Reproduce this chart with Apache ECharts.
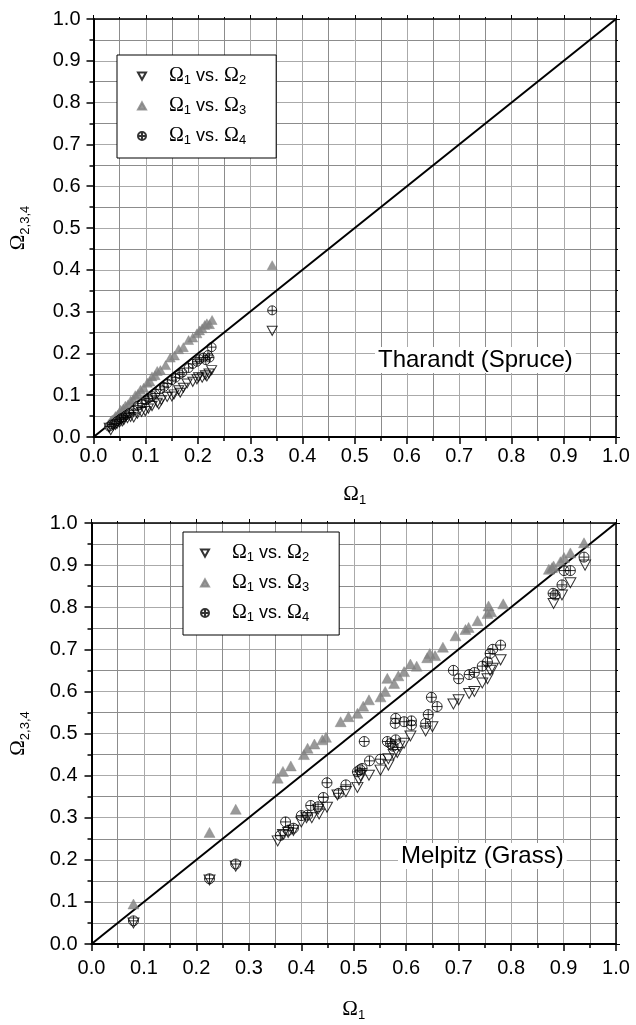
<!DOCTYPE html>
<html>
<head>
<meta charset="utf-8">
<script src="https://cdn.jsdelivr.net/npm/echarts@6/dist/echarts.min.js"></script>
<style>
html,body{margin:0;padding:0;background:#fff;}
#chart{width:636px;height:1025px;}
</style>
</head>
<body>
<div id="chart"></div>
<script>
// ---- Tick labels ----
const tickValues = [0.0,0.1,0.2,0.3,0.4,0.5,0.6,0.7,0.8,0.9,1.0];
const seriesNames = ['Ω1 vs. Ω2','Ω1 vs. Ω3','Ω1 vs. Ω4'];
const siteLabels = ['Tharandt (Spruce)','Melpitz (Grass)'];
const diagonal = [[0,0],[1,1]];

// ---- Tharandt (Spruce) ----
const thO2x = [0.030,0.033,0.038,0.042,0.045,0.050,0.055,0.058,0.065,0.071,0.077,0.084,0.092,0.099,0.105,0.112,0.122,0.125,0.130,0.141,0.150,0.154,0.163,0.166,0.172,0.179,0.190,0.198,0.201,0.208,0.214,0.217,0.221,0.226,0.342];
const thO2y = [0.022,0.016,0.027,0.029,0.031,0.035,0.037,0.040,0.045,0.048,0.047,0.056,0.060,0.062,0.068,0.074,0.082,0.078,0.088,0.096,0.097,0.102,0.112,0.106,0.118,0.128,0.132,0.138,0.143,0.142,0.148,0.145,0.152,0.160,0.254];
const thO3x = [0.030,0.033,0.036,0.040,0.042,0.046,0.050,0.052,0.057,0.061,0.066,0.071,0.076,0.080,0.085,0.090,0.096,0.103,0.108,0.112,0.118,0.122,0.128,0.138,0.147,0.155,0.163,0.172,0.182,0.190,0.198,0.203,0.208,0.213,0.217,0.222,0.227,0.342];
const thO3y = [0.032,0.038,0.042,0.045,0.050,0.053,0.058,0.065,0.068,0.075,0.078,0.087,0.090,0.100,0.103,0.113,0.118,0.130,0.133,0.145,0.148,0.158,0.160,0.172,0.190,0.195,0.210,0.215,0.232,0.238,0.248,0.255,0.260,0.268,0.272,0.270,0.280,0.411];
const thO4x = [0.030,0.035,0.040,0.045,0.050,0.053,0.057,0.062,0.068,0.077,0.085,0.093,0.100,0.105,0.112,0.118,0.128,0.135,0.141,0.150,0.157,0.165,0.170,0.182,0.190,0.198,0.203,0.210,0.215,0.219,0.222,0.226,0.342];
const thO4y = [0.025,0.030,0.032,0.038,0.042,0.045,0.047,0.052,0.057,0.063,0.075,0.080,0.088,0.092,0.098,0.104,0.114,0.120,0.128,0.136,0.142,0.150,0.154,0.165,0.175,0.180,0.186,0.190,0.184,0.196,0.190,0.215,0.303];

// ---- Melpitz (Grass) ----
const meO2x = [0.080,0.225,0.275,0.355,0.365,0.375,0.385,0.400,0.410,0.420,0.432,0.434,0.449,0.469,0.485,0.507,0.510,0.513,0.529,0.551,0.566,0.566,0.576,0.583,0.587,0.596,0.608,0.637,0.650,0.690,0.700,0.720,0.730,0.745,0.755,0.760,0.765,0.780,0.881,0.897,0.913,0.941];
const meO2y = [0.050,0.152,0.185,0.245,0.260,0.265,0.270,0.290,0.300,0.300,0.320,0.309,0.325,0.354,0.362,0.372,0.390,0.400,0.401,0.413,0.425,0.440,0.450,0.455,0.470,0.477,0.494,0.506,0.516,0.570,0.580,0.595,0.600,0.620,0.630,0.650,0.655,0.675,0.809,0.829,0.858,0.900];
const meO3x = [0.080,0.225,0.275,0.355,0.365,0.380,0.405,0.412,0.425,0.440,0.447,0.475,0.490,0.507,0.518,0.529,0.551,0.560,0.564,0.577,0.585,0.596,0.608,0.620,0.640,0.645,0.655,0.670,0.694,0.713,0.719,0.736,0.755,0.757,0.762,0.785,0.872,0.878,0.881,0.894,0.901,0.913,0.939];
const meO3y = [0.095,0.265,0.320,0.394,0.410,0.423,0.450,0.465,0.475,0.485,0.491,0.528,0.540,0.548,0.565,0.580,0.587,0.600,0.631,0.619,0.637,0.647,0.665,0.660,0.680,0.690,0.685,0.705,0.732,0.747,0.752,0.768,0.785,0.803,0.789,0.808,0.890,0.894,0.898,0.908,0.918,0.929,0.953];
const meO4x = [0.080,0.225,0.275,0.360,0.370,0.375,0.385,0.400,0.412,0.418,0.432,0.442,0.449,0.471,0.485,0.507,0.512,0.516,0.520,0.530,0.551,0.564,0.570,0.575,0.580,0.579,0.580,0.596,0.610,0.610,0.637,0.642,0.648,0.659,0.690,0.700,0.720,0.730,0.745,0.755,0.760,0.765,0.780,0.880,0.884,0.897,0.901,0.913,0.939];
const meO4y = [0.055,0.155,0.190,0.258,0.290,0.270,0.275,0.305,0.306,0.329,0.326,0.348,0.383,0.358,0.378,0.409,0.414,0.417,0.481,0.435,0.439,0.481,0.476,0.470,0.485,0.524,0.536,0.528,0.530,0.520,0.524,0.545,0.586,0.564,0.650,0.630,0.640,0.645,0.660,0.670,0.690,0.700,0.710,0.833,0.829,0.853,0.887,0.887,0.919];

const zip = (xs, ys) => xs.map((x, i) => [x, ys[i]]);

const SYM_DOWN = 'path://M0,0 L10,0 L5,9 Z';
const SYM_UP = 'path://M5,0 L10,9 L0,9 Z';
const SYM_CPLUS = 'path://M5,0 A5,5 0 1 1 5,10 A5,5 0 1 1 5,0 Z M0,5 L10,5 M5,0 L5,10';

const SANS = 'Liberation Sans, Arial, sans-serif';
const SERIF = 'Liberation Serif, Times New Roman, serif';

const legendRich = {
  sp: {width: 18, fontSize: 18, lineHeight: 22},
  o: {fontFamily: SERIF, fontSize: 20, lineHeight: 22, color: '#000'},
  t: {fontFamily: SANS, fontSize: 18, lineHeight: 22, color: '#000'},
  s: {fontFamily: SANS, fontSize: 13, lineHeight: 12, verticalAlign: 'bottom', color: '#000'}
};
function legendFmt(name) {
  const m = name.match(/Ω1 vs\. Ω(\d)/);
  return '{sp|}{o|Ω}{s|1}{t| vs. }{o|Ω}{s|' + m[1] + '}';
}

const nameRich = {
  o: {fontFamily: SERIF, fontSize: 21, lineHeight: 26, color: '#000'},
  s: {fontFamily: SANS, fontSize: 13, lineHeight: 13, verticalAlign: 'bottom', color: '#000'}
};

const gridDefs = [
  {left: 93, top: 19, width: 523, height: 418},
  {left: 90, top: 523, width: 526, height: 421}
];

function mainAxis(gi, isX, nameGap, labelMargin) {
  return {
    type: 'value', gridIndex: gi, min: 0, max: 1, interval: 0.1,
    position: isX ? 'bottom' : 'left',
    name: isX ? '{o|Ω}{s|1}' : '{o|Ω}{s|2,3,4}',
    nameLocation: 'middle', nameGap: nameGap,
    nameTextStyle: {rich: nameRich},
    axisLine: {show: true, onZero: false, lineStyle: {color: '#000', width: 2}},
    axisTick: {show: true, inside: false, length: 7, lineStyle: {color: '#000', width: 1.5}},
    minorTick: {show: true, splitNumber: 2, length: 4, lineStyle: {color: '#000', width: 1.5}},
    axisLabel: {show: true, margin: labelMargin, fontFamily: SANS, fontSize: 20, color: '#000',
      formatter: v => tickValues.find(t => Math.abs(t - v) < 1e-6).toFixed(1)},
    splitLine: {show: true, lineStyle: {color: '#aaaaaa', width: 1}},
    minorSplitLine: {show: true, lineStyle: {color: '#8c8c8c', width: 1}}
  };
}
function frameAxis(gi, isX) {
  return {
    type: 'value', gridIndex: gi, min: 0, max: 1, interval: 0.1,
    position: isX ? 'top' : 'right',
    axisLine: {show: true, onZero: false, lineStyle: {color: '#000', width: 1.5}},
    axisTick: {show: true, inside: false, length: 4, lineStyle: {color: '#000'}},
    minorTick: {show: true, splitNumber: 2, length: 2, lineStyle: {color: '#000'}},
    axisLabel: {show: false},
    splitLine: {show: false}
  };
}

const xAxes = [
  mainAxis(0, true, 44, 9), frameAxis(0, true),
  mainAxis(1, true, 52, 14), frameAxis(1, true)
];
const yAxes = [
  mainAxis(0, false, 62, 13), frameAxis(0, false),
  mainAxis(1, false, 60, 14), frameAxis(1, false)
];

function scatter(name, data, ax, kind, big) {
  const w = big ? 11 : 10, h = big ? 10 : 9, c = big ? 10 : 9;
  const base = {
    name: name, type: 'scatter', xAxisIndex: ax, yAxisIndex: ax,
    data: data, z: 3
  };
  if (kind === 'down') {
    return Object.assign(base, {symbol: SYM_DOWN, symbolSize: [w, h],
      itemStyle: {color: 'rgba(255,255,255,0)', borderColor: '#000', borderWidth: 1}});
  } else if (kind === 'up') {
    return Object.assign(base, {symbol: SYM_UP, symbolSize: [w, h],
      itemStyle: {color: '#808080', borderColor: '#808080', borderWidth: 0.5}});
  }
  return Object.assign(base, {symbol: SYM_CPLUS, symbolSize: [c, c],
    itemStyle: {color: 'rgba(255,255,255,0)', borderColor: '#000', borderWidth: 1}});
}

const option = {
  backgroundColor: '#fff',
  animation: false,
  grid: gridDefs.map(g => Object.assign({containLabel: false, show: false}, g)),
  xAxis: xAxes,
  yAxis: yAxes,
  title: [
    {text: siteLabels[0], left: 375, top: 347, padding: [1, 3],
      backgroundColor: '#fff',
      textStyle: {fontFamily: SANS, fontSize: 24, fontWeight: 'normal', color: '#000'}},
    {text: siteLabels[1], left: 398, top: 843, padding: [1, 3],
      backgroundColor: '#fff',
      textStyle: {fontFamily: SANS, fontSize: 24, fontWeight: 'normal', color: '#000'}}
  ],
  legend: [
    {data: seriesNames, orient: 'vertical', left: 117, top: 55,
      padding: [11, 30, 11, 20], itemGap: 9, itemWidth: 8, itemHeight: 8,
      backgroundColor: '#fff', borderColor: '#000', borderWidth: 1,
      selectedMode: false, formatter: legendFmt,
      textStyle: {rich: legendRich}},
    {data: seriesNames, orient: 'vertical', left: 183, top: 532,
      padding: [11, 30, 11, 17], itemGap: 9, itemWidth: 8, itemHeight: 8,
      backgroundColor: '#fff', borderColor: '#000', borderWidth: 1,
      selectedMode: false, formatter: legendFmt,
      textStyle: {rich: legendRich}}
  ],
  series: [
    {type: 'line', xAxisIndex: 0, yAxisIndex: 0, data: diagonal, symbol: 'none',
      lineStyle: {color: '#000', width: 2}, silent: true, z: 2},
    {type: 'line', xAxisIndex: 2, yAxisIndex: 2, data: diagonal, symbol: 'none',
      lineStyle: {color: '#000', width: 2}, silent: true, z: 2},
    scatter(seriesNames[0], zip(thO2x, thO2y), 0, 'down', false),
    scatter(seriesNames[1], zip(thO3x, thO3y), 0, 'up', false),
    scatter(seriesNames[2], zip(thO4x, thO4y), 0, 'cplus', false),
    scatter(seriesNames[0], zip(meO2x, meO2y), 2, 'down', true),
    scatter(seriesNames[1], zip(meO3x, meO3y), 2, 'up', true),
    scatter(seriesNames[2], zip(meO4x, meO4y), 2, 'cplus', true)
  ]
};

const chart = echarts.init(document.getElementById('chart'), null, {renderer: 'canvas'});
chart.setOption(option);
</script>
</body>
</html>
